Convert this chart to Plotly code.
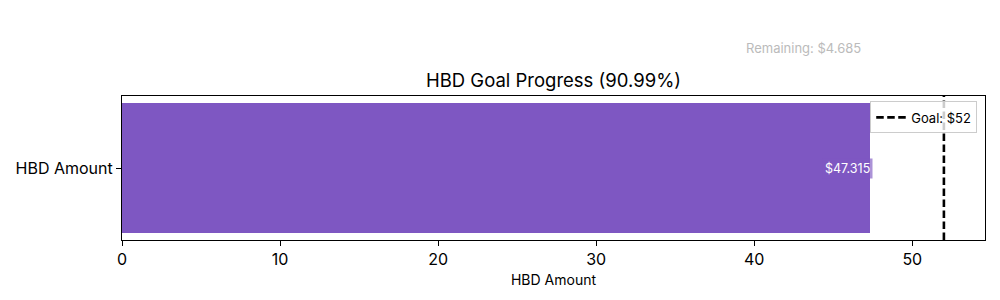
import plotly.graph_objects as go

categories = ["HBD Amount"]
current_values = [47.315]
goal = 52
remaining = round(goal - current_values[0], 3)
progress_pct = current_values[0] / goal * 100
x_ticks = [0, 10, 20, 30, 40, 50]

bar_color = "#7e57c2"
font_family = "Inter, Lato, DejaVu Sans, sans-serif"

y_lo, y_hi = -0.44, 0.44

fig = go.Figure()
fig.add_trace(go.Bar(
    x=current_values, y=[0], orientation="h", width=0.8,
    marker=dict(color=bar_color, line=dict(width=0)), showlegend=False,
    hoverinfo="skip",
))
fig.add_trace(go.Scatter(
    x=[goal, goal], y=[y_lo, y_hi], mode="lines",
    line=dict(color="black", width=2.6, dash="7.5px,3.5px"),
    name=f"Goal: ${goal}", showlegend=True,
))

# bar value label
fig.add_annotation(
    x=current_values[0], y=0, xref="x", yref="y",
    text=f"${current_values[0]:.3f}", showarrow=False,
    xanchor="right", yanchor="middle", xshift=3,
    font=dict(family=font_family, size=12.5, color="white"),
    bgcolor="rgba(126,87,194,0.65)", borderpad=2,
)
# remaining text
fig.add_annotation(
    x=0.79, y=1.33, xref="paper", yref="paper",
    text=f"Remaining: ${remaining:.3f}", showarrow=False,
    xanchor="center", yanchor="middle",
    font=dict(family=font_family, size=13, color="#bbbbbb"),
)

fig.update_layout(
    width=1000, height=300,
    margin=dict(l=122, r=15, t=96, b=60),
    paper_bgcolor="white", plot_bgcolor="white",
    font=dict(family=font_family, color="black"),
    title=dict(
        text=f"HBD Goal Progress ({progress_pct:.2f}%)",
        x=0.5, xref="paper", xanchor="center",
        y=1 - 81 / 300, yref="container", yanchor="middle",
        font=dict(family=font_family, size=18.5, color="black"),
    ),
    legend=dict(
        x=0.991, y=0.962, xanchor="right", yanchor="top",
        bgcolor="rgba(255,255,255,0.8)", bordercolor="#cccccc", borderwidth=1,
        font=dict(family=font_family, size=13, color="black"),
        itemwidth=30, tracegroupgap=0,
    ),
    bargap=0,
)
fig.update_xaxes(
    range=[0, goal * 1.05], tickvals=x_ticks,
    showline=True, linecolor="black", linewidth=1.1, mirror=True,
    ticks="outside", ticklen=5, tickwidth=1, tickcolor="black",
    showgrid=False, zeroline=False,
    tickfont=dict(family=font_family, size=16, color="black"),
    title=dict(text="HBD Amount", standoff=6,
               font=dict(family=font_family, size=14, color="black")),
)
fig.update_yaxes(
    range=[y_lo, y_hi], tickvals=[0], ticktext=categories,
    showline=True, linecolor="black", linewidth=1.1, mirror=True,
    ticks="outside", ticklen=5, tickwidth=1, tickcolor="black",
    showgrid=False, zeroline=False,
    tickfont=dict(family=font_family, size=16, color="black"),
)

fig.write_html("out.html")
